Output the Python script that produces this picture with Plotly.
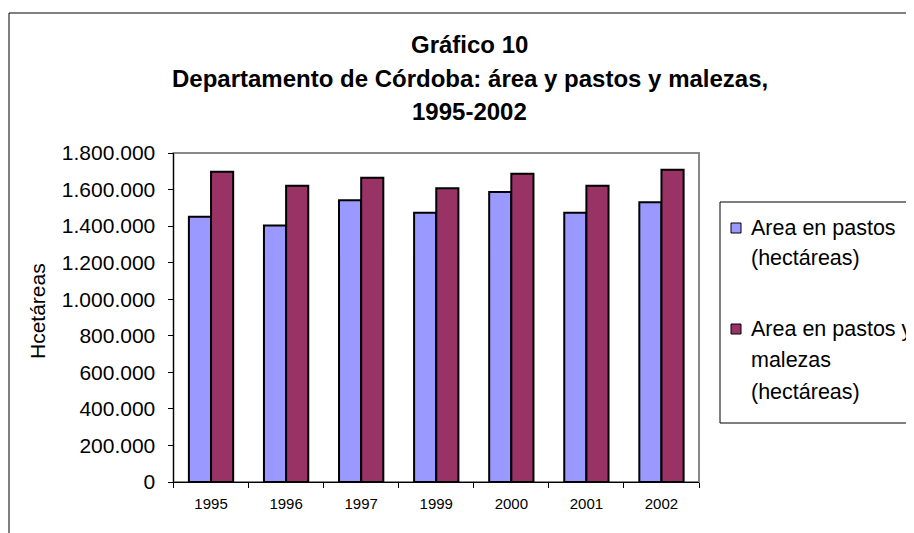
import plotly.graph_objects as go

years = ["1995", "1996", "1997", "1999", "2000", "2001", "2002"]
pastos = [1451000, 1404000, 1541000, 1473000, 1587000, 1473000, 1530000]
pastos_malezas = [1698000, 1621000, 1665000, 1607000, 1687000, 1621000, 1709000]
series_names = ["Area en pastos (hectáreas)", "Area en pastos y malezas (hectáreas)"]
legend_lines = [["Area en pastos", "(hectáreas)"], ["Area en pastos y", "malezas", "(hectáreas)"]]
series_colors = ["#9999FF", "#993366"]
y_ticks = [0, 200000, 400000, 600000, 800000, 1000000, 1200000, 1400000, 1600000, 1800000]
title_lines = ["Gráfico 10", "Departamento de Córdoba: área y pastos y malezas,", "1995-2002"]

W, H = 914, 533
OFF = 8  # page body margin
FONT = "Liberation Sans, Arial, sans-serif"

def px_x(p):
    return (p - OFF) / W

def px_y(p):
    return 1 - (p - OFF) / H

fig = go.Figure()
for vals, name, col in zip([pastos, pastos_malezas], series_names, series_colors):
    fig.add_trace(go.Bar(x=years, y=vals, name=name, showlegend=False,
                         marker=dict(color=col, line=dict(color="black", width=2))))

x0, x1 = px_x(173.5), px_x(699)
y0, y1 = px_y(482), px_y(153)

annotations = []
for txt, py in zip(title_lines, [44, 79, 112]):
    annotations.append(dict(text="<b>%s</b>" % txt, x=px_x(469.5), y=px_y(py), xref="paper", yref="paper",
                            xanchor="center", yanchor="middle", showarrow=False,
                            font=dict(family=FONT, size=24, color="black")))
annotations.append(dict(text="Hcetáreas", textangle=-90, x=px_x(37), y=px_y(311), xref="paper", yref="paper",
                        xanchor="center", yanchor="middle", showarrow=False,
                        font=dict(family=FONT, size=21, color="black")))

# manual legend (box runs past the right edge as in the reference)
shapes = [
    dict(type="rect", xref="paper", yref="paper", x0=px_x(9), x1=1.2, y0=-0.2, y1=px_y(13),
         line=dict(color="black", width=1), layer="below"),
    dict(type="rect", xref="paper", yref="paper", x0=x0, x1=x1, y0=y0, y1=y1,
         line=dict(color="#888888", width=2), layer="below"),
    dict(type="rect", xref="paper", yref="paper", x0=px_x(720), x1=1.2, y0=px_y(423), y1=px_y(202),
         line=dict(color="black", width=1), fillcolor="white", layer="below"),
]
line_pos = [[228, 258], [329, 360, 392]]
for lines, ys, col in zip(legend_lines, line_pos, series_colors):
    cy = ys[0]
    shapes.append(dict(type="rect", xref="paper", yref="paper", x0=px_x(731), x1=px_x(741),
                       y0=px_y(cy + 5), y1=px_y(cy - 5), line=dict(color="black", width=1),
                       fillcolor=col, layer="above"))
    for t, py in zip(lines, ys):
        annotations.append(dict(text=t, x=px_x(749), y=px_y(py), xref="paper", yref="paper",
                                xanchor="left", yanchor="middle", showarrow=False,
                                font=dict(family=FONT, size=21.5, color="black")))

fig.update_layout(
    width=W, height=H,
    margin=dict(l=0, r=0, t=0, b=0, autoexpand=False),
    paper_bgcolor="white", plot_bgcolor="white",
    separators=",.",
    barmode="group", bargap=0.41, bargroupgap=0,
    font=dict(family=FONT, color="black"),
    showlegend=False,
    xaxis=dict(domain=[x0, x1], type="category", showline=True, linecolor="black", linewidth=1,
               ticks="outside", tickson="boundaries", ticklen=5, tickcolor="black",
               tickfont=dict(size=15, family=FONT, color="black"), showgrid=False,
               ticklabelstandoff=8),
    yaxis=dict(domain=[y0, y1], range=[0, 1800000], tickvals=y_ticks, tickformat=",.0f",
               showline=True, linecolor="black", linewidth=1, ticks="outside", ticklen=5,
               tickcolor="black", tickfont=dict(size=21, family=FONT, color="black"),
               showgrid=False, zeroline=False, ticklabelstandoff=8),
    annotations=annotations,
    shapes=shapes,
)

fig.write_html("out.html")
